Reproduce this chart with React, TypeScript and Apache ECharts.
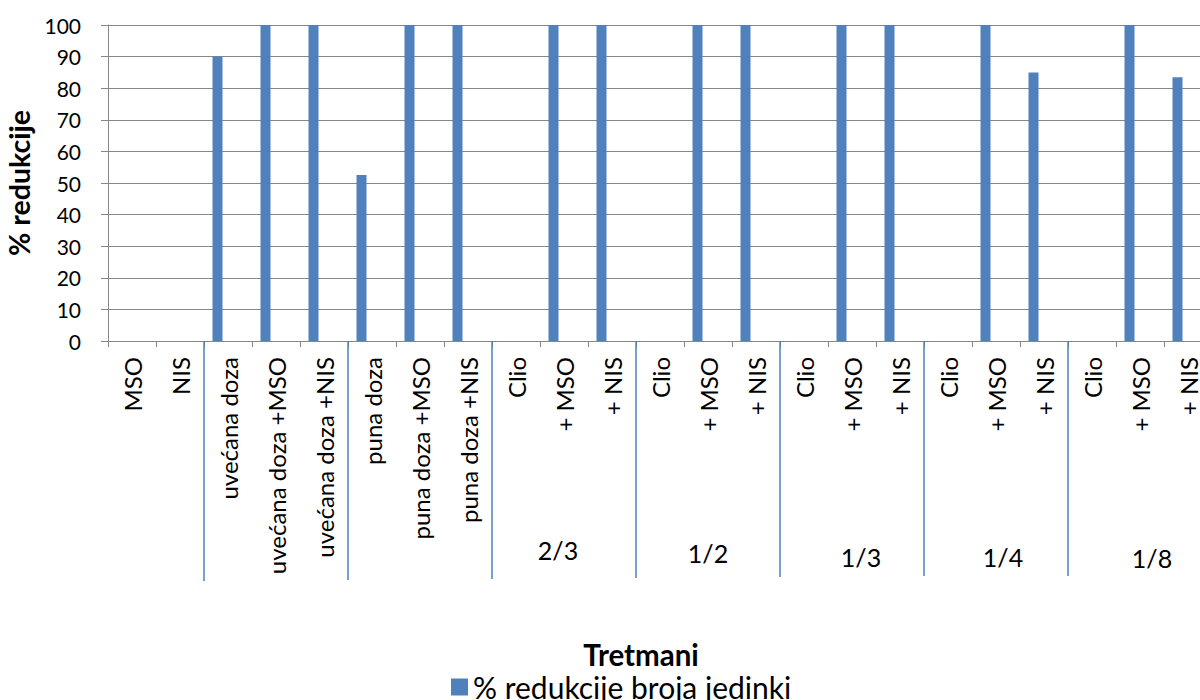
import React, { useEffect, useRef } from "react";
import * as echarts from "echarts";

const categories = [
  "MSO", "NIS",
  "uvećana doza", "uvećana doza +MSO", "uvećana doza +NIS",
  "puna doza", "puna doza +MSO", "puna doza +NIS",
  "Clio", "+ MSO", "+ NIS",
  "Clio", "+ MSO", "+ NIS",
  "Clio", "+ MSO", "+ NIS",
  "Clio", "+ MSO", "+ NIS",
  "Clio", "+ MSO", "+ NIS",
];
const values: (number | string)[] = [
  "-", "-",
  90, 100, 100,
  52.5, 100, 100,
  "-", 100, 100,
  "-", 100, 100,
  "-", 100, 100,
  "-", 100, 85,
  "-", 100, 83.5,
];
const groupNames = ["", "", "", "2/3", "1/2", "1/3", "1/4", "1/8"];
const groupStarts = [0, 2, 5, 8, 11, 14, 17, 20];
const groupSizes = [2, 3, 3, 3, 3, 3, 3, 3];
const yTicks = [0, 10, 20, 30, 40, 50, 60, 70, 80, 90, 100];

// layout nudges of the group labels (pixels), as placed in the original
const groupLabelDx = [0, 0, 0, -6, 0, 9, 7, 12];
const groupLabelDy = [0, 0, 0, -3, 0, 4, 4, 5];

const FONT = "Lato";
const BLUE = "#4F81BD";
const GRID = "#868686";

export default function App() {
  const ref = useRef<HTMLDivElement>(null);
  useEffect(() => {
    if (!ref.current) return;
    const chart = echarts.init(ref.current, undefined, { renderer: "svg" });
    const seriesName = "% redukcije broja jedinki";
    chart.setOption({
      animation: false,
      backgroundColor: "#ffffff",
      textStyle: { fontFamily: FONT },
      grid: { left: 108, right: -12, top: 25, bottom: 359, outerBoundsMode: "none", containLabel: false },
      legend: {
        data: [seriesName],
        top: 667,
        left: 446,
        itemWidth: 17,
        itemHeight: 17,
        itemGap: 8,
        icon: "rect",
        textStyle: { fontFamily: FONT, fontSize: 30, color: "#000" },
      },
      xAxis: {
        type: "category",
        data: categories,
        name: "Tretmani",
        nameLocation: "middle",
        nameGap: 298,
        nameTextStyle: {
          fontFamily: FONT,
          fontSize: 29.5,
          fontWeight: "bold",
          color: "#000",
          padding: [0, 38, 0, 0],
        },
        axisLine: { show: true, lineStyle: { color: GRID, width: 1 } },
        axisTick: { show: true, interval: 0, length: 6, lineStyle: { color: GRID } },
        axisLabel: {
          interval: 0,
          rotate: 90,
          margin: 16,
          fontFamily: FONT,
          fontSize: 24,
          color: "#000",
        },
      },
      yAxis: {
        type: "value",
        min: yTicks[0],
        max: yTicks[yTicks.length - 1],
        interval: 10,
        name: "% redukcije",
        nameLocation: "middle",
        nameRotate: 90,
        nameGap: 73,
        nameTextStyle: { fontFamily: FONT, fontSize: 28.5, fontWeight: "bold", color: "#000" },
        axisLine: { show: true, lineStyle: { color: GRID, width: 1 } },
        axisTick: { show: true, length: 7, lineStyle: { color: GRID } },
        splitLine: { show: true, lineStyle: { color: GRID, width: 1 } },
        axisLabel: { margin: 27, fontFamily: FONT, fontSize: 21, color: "#000" },
      },
      series: [
        {
          name: seriesName,
          type: "bar",
          data: values,
          barWidth: 10,
          barGap: "110%",
          itemStyle: { color: BLUE },
        },
        {
          name: "_spacer",
          type: "bar",
          data: categories.map(() => "-"),
          barWidth: 10,
          itemStyle: { color: BLUE },
        },
        {
          type: "custom",
          clip: false,
          silent: true,
          encode: { x: 0, y: 2 },
          data: groupStarts.map((s, i) => [s, groupSizes[i], 0]),
          renderItem: (params: any, api: any) => {
            const i = params.dataIndex;
            const start = api.value(0);
            const size = api.value(1);
            const band = api.size([1, 0])[0];
            const p = api.coord([start, 0]);
            const xLeft = p[0] - band / 2;
            const y0 = p[1];
            const children: any[] = [];
            if (start > 0) {
              children.push({
                type: "line",
                shape: { x1: xLeft, y1: y0, x2: xLeft, y2: y0 + 241 - Math.min(i, 6) },
                style: { stroke: BLUE, lineWidth: 1.5 },
              });
            }
            const label = groupNames[i];
            if (label) {
              children.push({
                type: "text",
                style: {
                  text: label,
                  x: xLeft + (size * band) / 2 + groupLabelDx[i],
                  y: 553 + groupLabelDy[i],
                  align: "center",
                  verticalAlign: "middle",
                  fontFamily: FONT,
                  fontSize: 25,
                  fill: "#000",
                },
              });
            }
            return { type: "group", children };
          },
        },
      ],
    });
    return () => chart.dispose();
  }, []);
  return (
    <div
      ref={ref}
      style={{ position: "absolute", left: 0, top: 0, width: 1200, height: 700 }}
    />
  );
}
